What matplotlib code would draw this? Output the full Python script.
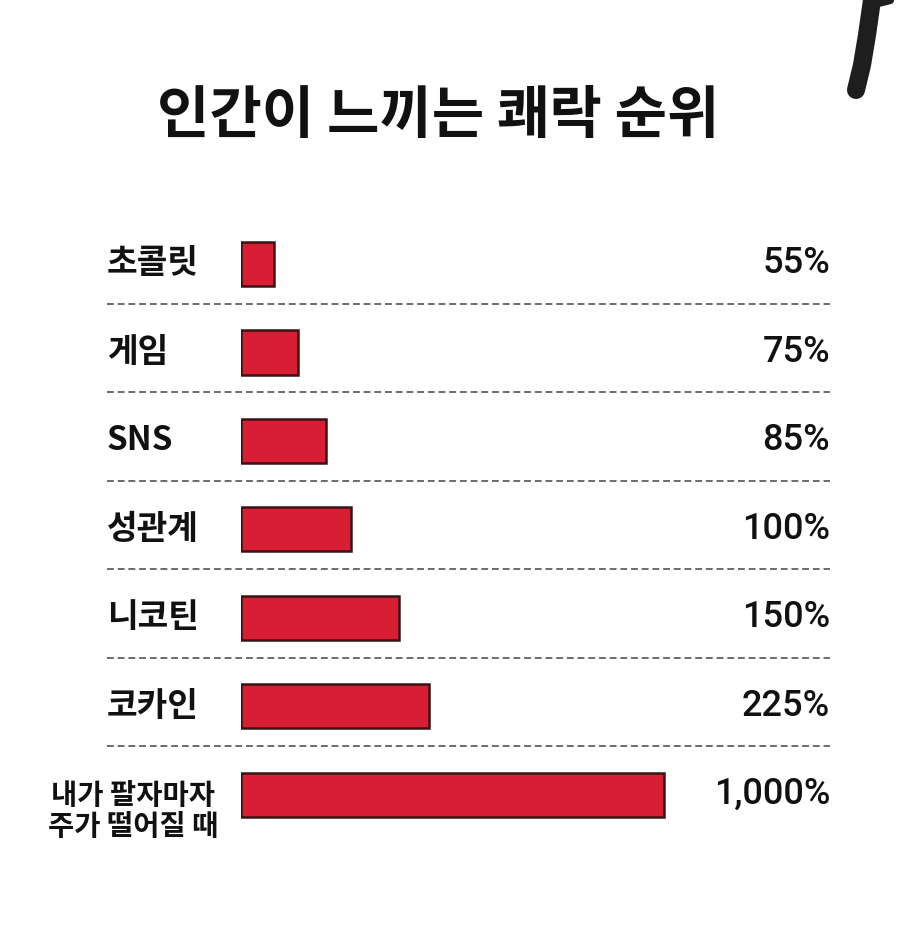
import matplotlib
matplotlib.use('Agg')
import matplotlib.pyplot as plt
from matplotlib.lines import Line2D

plt.rcParams['font.family'] = ['Noto Sans CJK KR', 'DejaVu Sans']

# 데이터
title = '인간이 느끼는 쾌락 순위'
labels = ['초콜릿', '게임', 'SNS', '성관계', '니코틴', '코카인', '내가 팔자마자\n주가 떨어질 때']
pct_text = ['55%', '75%', '85%', '100%', '150%', '225%', '1,000%']
bar_len = [33, 57, 85, 110, 158, 188, 423]  # 그림에 그려진 막대 길이 (비례 아님)

W, H = 900, 934
fig = plt.figure(figsize=(W / 100, H / 100), dpi=100)
fig.patch.set_facecolor('white')

# 막대 영역: x 단위 = 픽셀
ax = fig.add_axes([241 / W, 1 - 839 / H, 589 / W, 619.25 / H])
ax.set_xlim(0, 589)
ax.set_ylim(len(labels) - 0.5, -0.5)
ax.axis('off')

ypos = list(range(len(labels)))
ax.barh(ypos, bar_len, height=0.5, left=0, color='#d81e34',
        edgecolor='#3a1414', linewidth=1.8)

# 구분 점선
ax.hlines([y + 0.45 for y in ypos[:-1]], -134, 589, colors='#444444',
          linestyles=(0, (4.5, 2.5)), linewidth=1.1, clip_on=False)

for y, lab, pt in zip(ypos, labels, pct_text):
    if '\n' in lab:
        ax.text(-108, y + 0.19, lab, ha='center', va='center', fontsize=20.5,
                fontweight='bold', color='#111111', linespacing=1.1,
                clip_on=False)
    else:
        ax.text(-134, y, lab, ha='left', va='center', fontsize=24,
                fontweight='bold', color='#111111', clip_on=False)
    ax.text(589, y, pt, ha='right', va='center', fontsize=26,
            family=['Roboto', 'DejaVu Sans'], fontweight='medium',
            color='#111111', clip_on=False)

fig.text(438 / W, 1 - 116 / H, title, ha='center', va='center',
         fontsize=41, fontweight='bold', color='#111111')

# 오른쪽 위 손글씨 자국
fig.add_artist(Line2D([872 / W, 867 / W, 862 / W, 856 / W],
                      [1.0, 1 - 35 / H, 1 - 65 / H, 1 - 90 / H],
                      transform=fig.transFigure, color='#1e1e1e',
                      linewidth=13, solid_capstyle='round'))
fig.add_artist(Line2D([874 / W, 890 / W], [1 - 4 / H, 1.0],
                      transform=fig.transFigure, color='#1e1e1e',
                      linewidth=6, solid_capstyle='round'))

fig.savefig('out.png', dpi=100, facecolor='white')
